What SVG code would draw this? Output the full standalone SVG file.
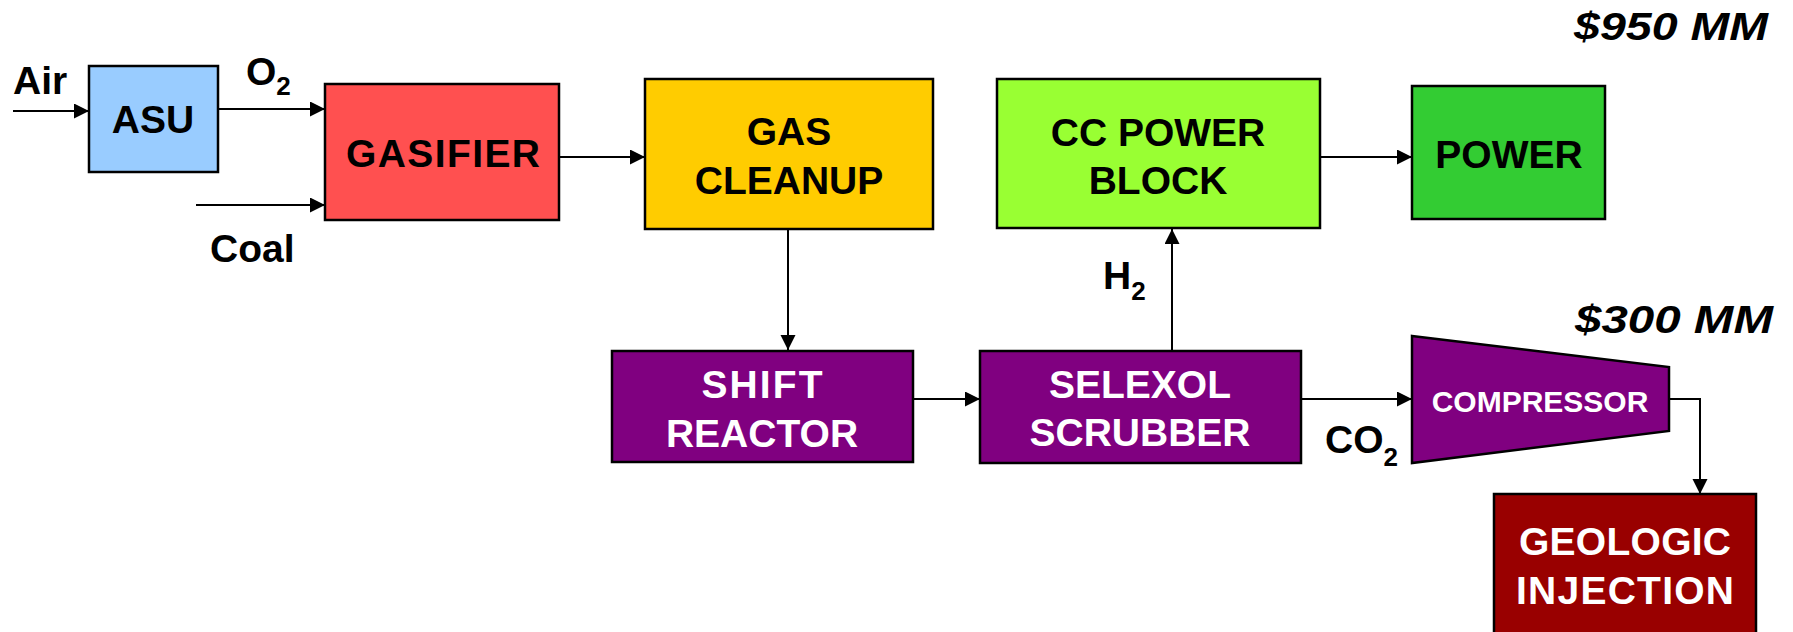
<svg xmlns="http://www.w3.org/2000/svg" width="1793" height="632" viewBox="0 0 1793 632">
<style>
.box{stroke:#000;stroke-width:2.5}
.t{font-family:"Liberation Sans",Arial,sans-serif;font-weight:bold;font-size:39px;text-anchor:middle}
.l{font-family:"Liberation Sans",Arial,sans-serif;font-weight:bold;font-size:39px}
.w{fill:#fff}
.k{fill:#000}
.sub{font-size:26px}
.cost{font-family:"Liberation Sans",Arial,sans-serif;font-weight:bold;font-style:italic;font-size:38px}
.c{fill:none;stroke:#000;stroke-width:2}
</style>
<defs>
<marker id="ah" markerUnits="userSpaceOnUse" markerWidth="16" markerHeight="16" refX="15" refY="7.5" orient="auto">
<path d="M0,0 L15,7.5 L0,15 z" fill="#000"/>
</marker>
</defs>
<rect width="1793" height="632" fill="#fff"/>
<g id="connectors">
<path class="c" d="M13,111 H89" marker-end="url(#ah)"/>
<path class="c" d="M218,109 H325" marker-end="url(#ah)"/>
<path class="c" d="M196,205 H325" marker-end="url(#ah)"/>
<path class="c" d="M559,157 H645" marker-end="url(#ah)"/>
<path class="c" d="M788,229 V350" marker-end="url(#ah)"/>
<path class="c" d="M913,399 H980" marker-end="url(#ah)"/>
<path class="c" d="M1172,351 V229" marker-end="url(#ah)"/>
<path class="c" d="M1320,157 H1412" marker-end="url(#ah)"/>
<path class="c" d="M1301,399 H1412" marker-end="url(#ah)"/>
<path class="c" d="M1669,399 H1700 V494" marker-end="url(#ah)"/>
</g>
<g id="labels">
<text class="l k" x="13" y="94">Air</text>
<text class="l k" x="246" y="85">O<tspan class="sub" dy="10">2</tspan></text>
<text class="l k" x="210" y="262">Coal</text>
<text class="l k" x="1103" y="289">H<tspan class="sub" dy="11">2</tspan></text>
<text class="l k" x="1325" y="453">CO<tspan class="sub" dy="13">2</tspan></text>
<text class="cost k" x="1574" y="40" textLength="194" lengthAdjust="spacingAndGlyphs">$950 MM</text>
<text class="cost k" x="1575" y="333" textLength="198" lengthAdjust="spacingAndGlyphs">$300 MM</text>
</g>
<g id="asu">
<rect class="box" x="89" y="66" width="129" height="106" fill="#99CCFF"/>
<text class="t k" x="153" y="133">ASU</text>
</g>
<g id="gasifier">
<rect class="box" x="325" y="84" width="234" height="136" fill="#FF5050"/>
<text class="t k" x="443" y="167" textLength="194">GASIFIER</text>
</g>
<g id="gas-cleanup">
<rect class="box" x="645" y="79" width="288" height="150" fill="#FFCC00"/>
<text class="t k" x="789" y="145">GAS</text>
<text class="t k" x="789" y="194">CLEANUP</text>
</g>
<g id="cc-power-block">
<rect class="box" x="997" y="79" width="323" height="149" fill="#99FF33"/>
<text class="t k" x="1158" y="146">CC POWER</text>
<text class="t k" x="1158" y="194">BLOCK</text>
</g>
<g id="power">
<rect class="box" x="1412" y="86" width="193" height="133" fill="#33CC33"/>
<text class="t k" x="1509" y="168">POWER</text>
</g>
<g id="shift-reactor">
<rect class="box" x="612" y="351" width="301" height="111" fill="#800080"/>
<text class="t w" x="762" y="398" textLength="121">SHIFT</text>
<text class="t w" x="762" y="447">REACTOR</text>
</g>
<g id="selexol-scrubber">
<rect class="box" x="980" y="351" width="321" height="112" fill="#800080"/>
<text class="t w" x="1140" y="398">SELEXOL</text>
<text class="t w" x="1140" y="446">SCRUBBER</text>
</g>
<g id="compressor">
<polygon class="box" points="1412,336 1669,367 1669,431 1412,463" fill="#800080"/>
<text class="t w" x="1540" y="412" style="font-size:30px">COMPRESSOR</text>
</g>
<g id="geologic-injection">
<rect class="box" x="1494" y="494" width="262" height="150" fill="#990000"/>
<text class="t w" x="1625" y="555" textLength="212">GEOLOGIC</text>
<text class="t w" x="1625" y="604" textLength="218">INJECTION</text>
</g>
</svg>
